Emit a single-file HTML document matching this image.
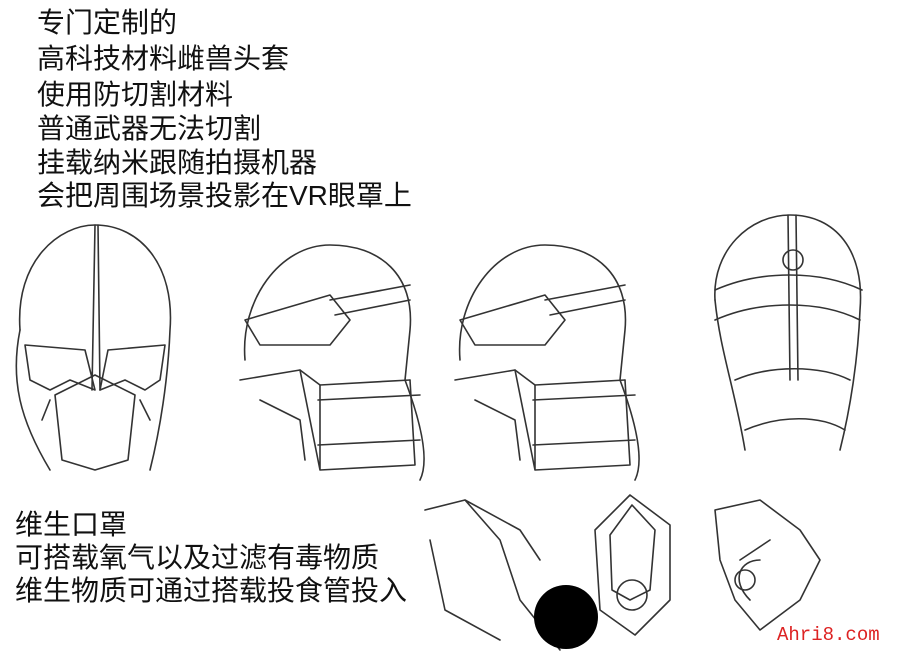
<!DOCTYPE html>
<html><head><meta charset="utf-8"><style>
html,body{margin:0;padding:0;background:#fff;}
#c{position:relative;width:900px;height:662px;overflow:hidden;background:#fff;}
.t{position:absolute;font-family:"Liberation Sans","Noto Sans CJK SC",sans-serif;color:#111;white-space:nowrap;}
.top{left:37px;font-size:28px;line-height:28px;}
.bot{left:15px;font-size:28px;line-height:28px;}
svg{position:absolute;left:0;top:0;}
</style></head><body><div id="c">
<svg width="900" height="662" fill="none" stroke="#333" stroke-width="1.6" stroke-linecap="round" stroke-linejoin="round">
<path d="M20 330 C15 260 60 225 95 225 C140 225 175 265 170 330 C168 380 160 430 150 470"/>
<path d="M20 330 C10 380 20 420 50 470"/>
<path d="M95 225 L92 390 M98 225 L100 390"/>
<path d="M25 345 L85 350 L95 390 L70 380 L50 390 L30 380 Z"/>
<path d="M165 345 L108 350 L100 390 L125 380 L145 390 L160 380 Z"/>
<path d="M55 395 L95 375 L135 395 L128 460 L95 470 L62 460 Z"/>
<path d="M50 400 L42 420 M140 400 L150 420"/>
<path d="M245 360 C240 300 280 245 330 245 C380 245 415 275 410 330 L405 380 C420 420 430 460 420 480"/>
<path d="M245 320 L330 295 L350 320 L330 345 L260 345 Z"/>
<path d="M330 300 L410 285 M335 315 L410 300"/>
<path d="M240 380 L300 370 L320 385 L410 380"/>
<path d="M300 370 L320 470 L415 465 L410 380 M320 385 L320 470"/>
<path d="M260 400 L300 420 L305 460 M318 400 L420 395 M318 445 L420 440"/>
<path d="M460 360 C455 300 495 245 545 245 C595 245 630 275 625 330 L620 380 C635 420 645 460 635 480"/>
<path d="M460 320 L545 295 L565 320 L545 345 L475 345 Z"/>
<path d="M545 300 L625 285 M550 315 L625 300"/>
<path d="M455 380 L515 370 L535 385 L625 380"/>
<path d="M515 370 L535 470 L630 465 L625 380 M535 385 L535 470"/>
<path d="M475 400 L515 420 L520 460 M533 400 L635 395 M533 445 L635 440"/>
<path d="M715 300 C712 250 750 215 790 215 C835 215 865 250 860 310 C858 360 850 410 840 450"/>
<path d="M715 300 C720 350 735 390 745 450"/>
<path d="M715 290 C760 270 820 270 862 290 M715 320 C760 300 820 300 860 320"/>
<path d="M788 215 L790 380 M796 215 L798 380"/>
<circle cx="793" cy="260" r="10"/>
<path d="M735 380 C770 365 820 365 850 380 M745 430 C780 415 820 415 845 430"/>
<path d="M425 510 L465 500 L500 540 L520 600 L560 650 M430 540 L445 610 L500 640 M465 500 L520 530 L540 560"/>
<path d="M595 530 L630 495 L670 525 L670 600 L635 635 L600 610 Z M610 535 L632 505 L655 530 L650 590 L630 600 L612 590 Z"/>
<circle cx="632" cy="595" r="15"/>
<path d="M715 510 L760 500 L800 530 L820 560 L800 600 L760 630 L735 600 L720 560 Z M740 560 L770 540 M750 600 C730 580 740 560 760 560"/>
<circle cx="745" cy="580" r="10"/>
<circle cx="566" cy="617" r="32" fill="#000" stroke="none"/>
</svg>
<div class="t top" style="top:9px">专门定制的</div>
<div class="t top" style="top:45px">高科技材料雌兽头套</div>
<div class="t top" style="top:81px">使用防切割材料</div>
<div class="t top" style="top:115px">普通武器无法切割</div>
<div class="t top" style="top:149px">挂载纳米跟随拍摄机器</div>
<div class="t top" style="top:182px">会把周围场景投影在VR眼罩上</div>
<div class="t bot" style="top:511px">维生口罩</div>
<div class="t bot" style="top:544px">可搭载氧气以及过滤有毒物质</div>
<div class="t bot" style="top:577px">维生物质可通过搭载投食管投入</div>
<div class="t" style="left:777px;top:624px;font-family:'Liberation Mono',monospace;font-size:19px;color:#d22;">Ahri8.com</div>
</div></body></html>
